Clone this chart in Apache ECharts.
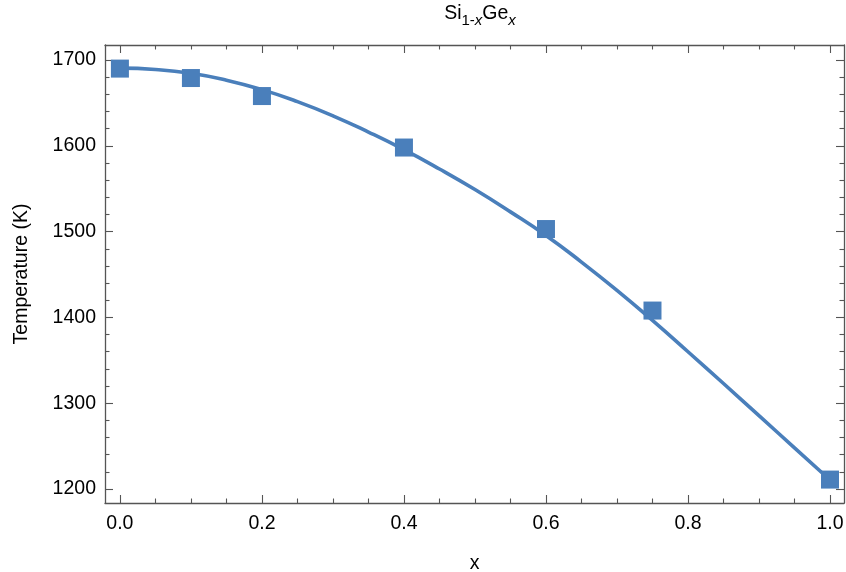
<!DOCTYPE html>
<html>
<head>
<meta charset="utf-8">
<script src="https://cdn.jsdelivr.net/npm/echarts@6/dist/echarts.min.js"></script>
<style>
  html, body { margin: 0; padding: 0; background: #fff; }
  #container { width: 846px; height: 572px; }
</style>
</head>
<body>
<div id="container"></div>
<script>
// measured points
var xData = [0, 0.1, 0.2, 0.4, 0.6, 0.75, 1.0];
var tData = [1690, 1679, 1658, 1598, 1503, 1408, 1211];

// fitted curve
var fitX = [0, 0.05, 0.1, 0.15, 0.2, 0.25, 0.3, 0.35, 0.4, 0.45, 0.5, 0.55, 0.6, 0.65, 0.7, 0.75, 0.8, 0.85, 0.9, 0.95, 1.0];
var fitT = [1690.5, 1689, 1684.5, 1676.5, 1665.5, 1651.5, 1635, 1616, 1595.5, 1573, 1549, 1523, 1495.5, 1464.5, 1431.5, 1396.5, 1360, 1323, 1285.5, 1248, 1210.5];

// ticks
var xMajor = [0, 0.2, 0.4, 0.6, 0.8, 1.0];
var xMinor = [0.05, 0.1, 0.15, 0.25, 0.3, 0.35, 0.45, 0.5, 0.55, 0.65, 0.7, 0.75, 0.85, 0.9, 0.95];
var yMajor = [1200, 1300, 1400, 1500, 1600, 1700];
var yMinor = [];
for (var v = 1220; v < 1700; v += 20) { if (v % 100 !== 0) yMinor.push(v); }

var XMIN = -0.021, XMAX = 1.0197;
var YMIN = 1183.7, YMAX = 1717.5;

var FONT = 'Liberation Sans';
var frameColor = '#555';
var blue = '#4a7fbb';

function makeX(pos, ticks, len, showLine, showLabel) {
    return {
        type: 'value', position: pos, min: XMIN, max: XMAX,
        splitLine: { show: false },
        axisLine: { show: showLine, onZero: false, lineStyle: { color: frameColor, width: 1.3 } },
        axisTick: { show: true, inside: true, length: len, customValues: ticks,
            lineStyle: { color: frameColor, width: 1.1 } },
        axisLabel: { show: showLabel, customValues: xMajor, margin: 11,
            fontFamily: FONT, fontSize: 19.5, color: '#000',
            formatter: function (v) { return v.toFixed(1); } }
    };
}
function makeY(pos, ticks, len, showLine, showLabel) {
    return {
        type: 'value', position: pos, min: YMIN, max: YMAX,
        splitLine: { show: false },
        axisLine: { show: showLine, onZero: false, lineStyle: { color: frameColor, width: 1.3 } },
        axisTick: { show: true, inside: true, length: len, customValues: ticks,
            lineStyle: { color: frameColor, width: 1.1 } },
        axisLabel: { show: showLabel, customValues: yMajor, margin: 9,
            fontFamily: FONT, fontSize: 19.5, color: '#000',
            formatter: function (v) { return String(Math.round(v)); } }
    };
}

var xAxes = [
    makeX('bottom', xMajor, 8, true, true),
    makeX('bottom', xMinor, 4.5, false, false),
    makeX('top', xMajor, 8, true, false),
    makeX('top', xMinor, 4.5, false, false)
];
xAxes[0].name = 'x';
xAxes[0].nameLocation = 'middle';
xAxes[0].nameGap = 51;
xAxes[0].nameTextStyle = { fontFamily: FONT, fontSize: 19.5, color: '#000' };

var yAxes = [
    makeY('left', yMajor, 8, true, true),
    makeY('left', yMinor, 4.5, false, false),
    makeY('right', yMajor, 8, true, false),
    makeY('right', yMinor, 4.5, false, false)
];
yAxes[0].name = 'Temperature (K)';
yAxes[0].nameLocation = 'middle';
yAxes[0].nameGap = 73;
yAxes[0].nameTextStyle = { fontFamily: FONT, fontSize: 19.5, color: '#000' };

var myChart = echarts.init(document.getElementById('container'));
var option = {
    animation: false,
    backgroundColor: '#fff',
    title: {
        text: 'Si{s|1-}{si|x}Ge{si|x}',
        left: 475, top: -5, textAlign: 'center',
        textStyle: {
            fontFamily: FONT, fontSize: 19.5, fontWeight: 'normal', color: '#000',
            lineHeight: 28,
            rich: {
                s: { fontFamily: FONT, fontSize: 15, color: '#000', lineHeight: 16, verticalAlign: 'bottom' },
                si: { fontFamily: FONT, fontSize: 15, fontStyle: 'italic', color: '#000', lineHeight: 16, verticalAlign: 'bottom' }
            }
        }
    },
    grid: { left: 105, right: 2, top: 45, bottom: 69, containLabel: false, outerBoundsMode: 'none' },
    xAxis: xAxes,
    yAxis: yAxes,
    series: [{
        name: 'fit',
        type: 'line',
        smooth: true,
        showSymbol: false,
        lineStyle: { color: blue, width: 3.6 },
        data: fitX.map(function (x, i) { return [x, fitT[i]]; }),
        z: 2
    }, {
        name: 'data',
        type: 'scatter',
        symbol: 'rect',
        symbolSize: 18,
        itemStyle: { color: blue, opacity: 1 },
        data: xData.map(function (x, i) { return [x, tData[i]]; }),
        z: 3
    }]
};
myChart.setOption(option, true);
</script>
</body>
</html>
